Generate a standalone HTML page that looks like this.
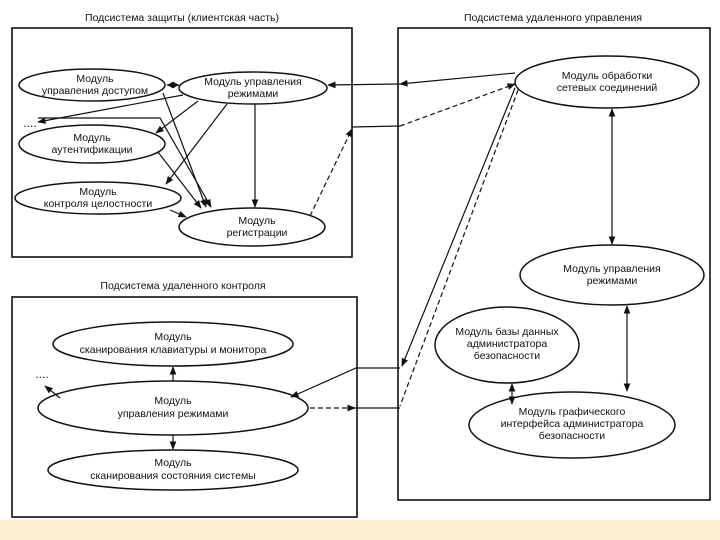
<!DOCTYPE html>
<html><head><meta charset="utf-8"><style>
html,body{margin:0;padding:0;background:#fff;}
svg{display:block;}
text{font-family:"Liberation Sans",sans-serif;font-size:10.5px;fill:#111;text-anchor:middle;}
</style></head><body>
<svg width="720" height="540" viewBox="0 0 720 540">
<defs>
<marker id="a" viewBox="0 0 10 10" refX="9" refY="5" markerWidth="7" markerHeight="7" orient="auto-start-reverse"><path d="M0,1 L10,5 L0,9 z" fill="#111"/></marker>
</defs>
<rect x="0" y="0" width="720" height="540" fill="#fff"/>
<rect x="0" y="520" width="720" height="20" fill="#fcefd2"/>
<g fill="none" stroke="#111" stroke-width="1.6">
<rect x="12" y="28" width="340" height="229"/>
<rect x="398" y="28" width="312" height="472"/>
<rect x="12" y="297" width="345" height="220"/>
</g>
<text x="182" y="21">Подсистема защиты (клиентская часть)</text>
<text x="553" y="21">Подсистема удаленного управления</text>
<text x="183" y="289">Подсистема удаленного контроля</text>
<g fill="#fff" stroke="#111" stroke-width="1.5">
<ellipse cx="92" cy="85" rx="73" ry="16"/>
<ellipse cx="253" cy="88" rx="74" ry="16"/>
<ellipse cx="92" cy="144" rx="73" ry="19"/>
<ellipse cx="98" cy="198" rx="83" ry="16"/>
<ellipse cx="252" cy="227" rx="73" ry="19"/>
<ellipse cx="607" cy="82" rx="92" ry="26"/>
<ellipse cx="612" cy="275" rx="92" ry="30"/>
<ellipse cx="507" cy="345" rx="72" ry="38"/>
<ellipse cx="572" cy="425" rx="103" ry="33"/>
<ellipse cx="173" cy="344" rx="120" ry="22"/>
<ellipse cx="173" cy="408" rx="135" ry="27"/>
<ellipse cx="173" cy="470" rx="125" ry="20"/>
</g>
<g stroke="#111" stroke-width="1.2" fill="none">
<line x1="167" y1="85" x2="179" y2="85" marker-start="url(#a)" marker-end="url(#a)"/>
<line x1="515" y1="73" x2="400" y2="84" marker-end="url(#a)"/>
<line x1="400" y1="84" x2="328" y2="85" marker-end="url(#a)"/>
<line x1="310" y1="216" x2="352" y2="129" stroke-dasharray="5,3" marker-end="url(#a)"/>
<line x1="352" y1="127" x2="400" y2="126"/>
<line x1="400" y1="126" x2="515" y2="84" stroke-dasharray="5,3" marker-end="url(#a)"/>
<line x1="183" y1="95" x2="38" y2="122" marker-end="url(#a)"/>
<line x1="198" y1="101" x2="156" y2="133" marker-end="url(#a)"/>
<line x1="227" y1="104" x2="166" y2="184" marker-end="url(#a)"/>
<line x1="255" y1="104" x2="255" y2="207" marker-end="url(#a)"/>
<line x1="163" y1="93" x2="206" y2="207" marker-end="url(#a)"/>
<polyline points="38,118 160,118 211,207" marker-end="url(#a)"/>
<line x1="158" y1="152" x2="201" y2="208" marker-end="url(#a)"/>
<line x1="170" y1="210" x2="186" y2="217" marker-end="url(#a)"/>
<line x1="515" y1="88" x2="402" y2="366" marker-end="url(#a)"/>
<line x1="518" y1="90" x2="400" y2="406" stroke-dasharray="5,3"/>
<polyline points="400,368 356,368 291,397" marker-end="url(#a)"/>
<line x1="310" y1="408" x2="355" y2="408" stroke-dasharray="5,3" marker-end="url(#a)"/>
<line x1="355" y1="408" x2="400" y2="408"/>
<line x1="60" y1="398" x2="45" y2="386" marker-end="url(#a)"/>
<line x1="173" y1="381" x2="173" y2="367" marker-end="url(#a)"/>
<line x1="173" y1="435" x2="173" y2="449" marker-end="url(#a)"/>
<line x1="612" y1="109" x2="612" y2="244" marker-start="url(#a)" marker-end="url(#a)"/>
<line x1="627" y1="306" x2="627" y2="391" marker-start="url(#a)" marker-end="url(#a)"/>
<line x1="512" y1="384" x2="512" y2="404" marker-start="url(#a)" marker-end="url(#a)"/>
</g>
<text x="30" y="127" style="font-size:12px">....</text>
<text x="42" y="378" style="font-size:12px">....</text>
<text x="95" y="82">Модуль</text><text x="95" y="94">управления доступом</text>
<text x="253" y="85">Модуль управления</text><text x="253" y="97">режимами</text>
<text x="92" y="141">Модуль</text><text x="92" y="153">аутентификации</text>
<text x="98" y="195">Модуль</text><text x="98" y="207">контроля целостности</text>
<text x="257" y="224">Модуль</text><text x="257" y="236">регистрации</text>
<text x="607" y="79">Модуль обработки</text><text x="607" y="91">сетевых соединений</text>
<text x="612" y="272">Модуль управления</text><text x="612" y="284">режимами</text>
<text x="507" y="335">Модуль базы данных</text><text x="507" y="347">администратора</text><text x="507" y="359">безопасности</text>
<text x="572" y="415">Модуль графического</text><text x="572" y="427">интерфейса администратора</text><text x="572" y="439">безопасности</text>
<text x="173" y="340">Модуль</text><text x="173" y="353">сканирования клавиатуры и монитора</text>
<text x="173" y="404">Модуль</text><text x="173" y="417">управления режимами</text>
<text x="173" y="466">Модуль</text><text x="173" y="479">сканирования состояния системы</text>
</svg>
</body></html>
